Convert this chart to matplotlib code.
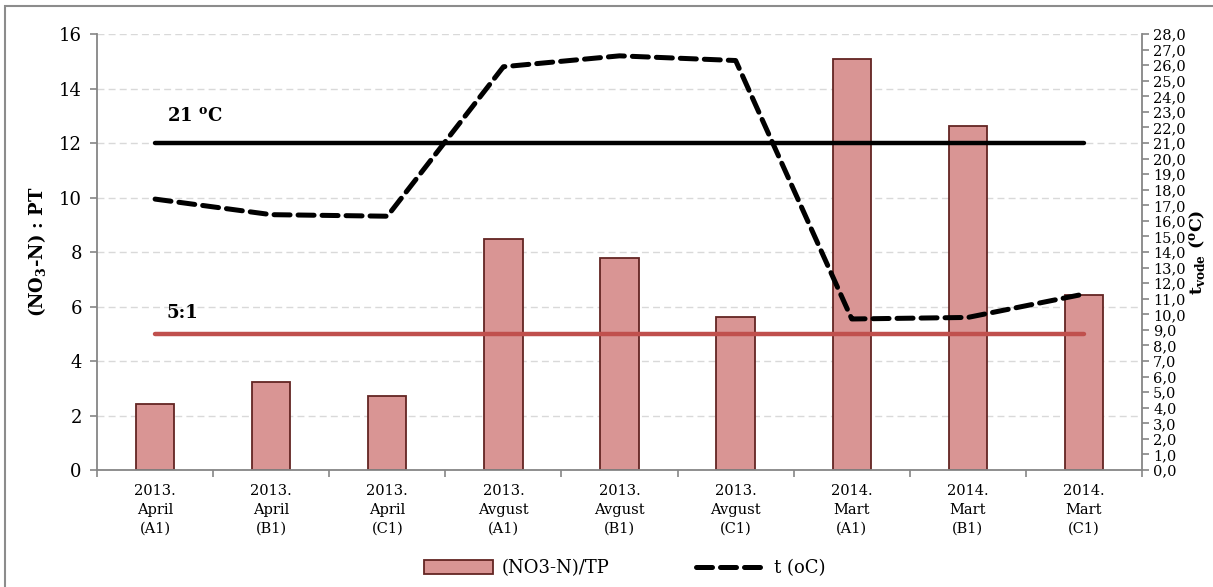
import matplotlib
matplotlib.use("Agg")
import matplotlib.pyplot as plt
from matplotlib.patches import Rectangle
from matplotlib.ticker import MultipleLocator, FixedLocator, FuncFormatter
import numpy as np

categories = [
    "2013.\nApril\n(A1)", "2013.\nApril\n(B1)", "2013.\nApril\n(C1)",
    "2013.\nAvgust\n(A1)", "2013.\nAvgust\n(B1)", "2013.\nAvgust\n(C1)",
    "2014.\nMart\n(A1)", "2014.\nMart\n(B1)", "2014.\nMart\n(C1)",
]
ratio_no3_tp = [2.42, 3.23, 2.72, 8.48, 7.78, 5.61, 15.08, 12.62, 6.42]
water_temp = [17.4, 16.4, 16.3, 25.9, 26.6, 26.3, 9.7, 9.8, 11.3]
temp_threshold = 21.0
ratio_threshold = 5.0

serif = "DejaVu Serif"
plt.rcParams["font.family"] = serif
plt.rcParams["mathtext.fontset"] = "dejavuserif"
plt.rcParams["mathtext.default"] = "bf"

fig = plt.figure(figsize=(12.13, 5.87), dpi=100)
ax = fig.add_axes([0.080, 0.1993, 0.8615, 0.7427])
ax2 = ax.twinx()

x = np.arange(len(categories))
bar_fill = "#d99594"
bar_edge = "#632523"

ax.set_zorder(1)
ax2.set_zorder(2)
ax.patch.set_visible(False)

bars = ax.bar(x, ratio_no3_tp, width=0.33, color=bar_fill, edgecolor=bar_edge,
              linewidth=1.3, zorder=2, label="(NO3-N)/TP")

# reference lines
ax.plot([x[0], x[-1]], [ratio_threshold, ratio_threshold], color="#c0504d",
        lw=3.2, solid_capstyle="round", zorder=3)
ax2.plot([x[0], x[-1]], [temp_threshold, temp_threshold], color="black",
         lw=3.2, solid_capstyle="round", zorder=3)
temp_line, = ax2.plot(x, water_temp, color="black", lw=3.6,
                      linestyle=(0, (3.2, 1.6)), dash_capstyle="round",
                      zorder=4, label="t (oC)")

ax.text(x[0] + 0.1, 13.0, "21 $^{o}$C", fontsize=13, fontweight="bold",
        ha="left", va="center")
ax.text(x[0] + 0.1, 5.75, "5:1", fontsize=13, fontweight="bold",
        ha="left", va="center")

# axes limits
ax.set_xlim(-0.5, len(categories) - 0.5)
ax.set_ylim(0, 16)
ax2.set_ylim(0, 28)

ax.yaxis.set_major_locator(MultipleLocator(2))
ax2.yaxis.set_major_locator(MultipleLocator(1))
ax2.yaxis.set_major_formatter(FuncFormatter(lambda v, p: f"{v:.1f}".replace(".", ",")))

ax.grid(axis="y", color="#d9d9d9", linestyle=(0, (5, 3)), lw=1.0, zorder=0)
ax.set_axisbelow(True)

# category ticks between groups
ax.xaxis.set_major_locator(FixedLocator(x))
ax.set_xticklabels(categories)
ax.xaxis.set_minor_locator(FixedLocator(np.arange(-0.5, len(categories), 1.0)))
ax.tick_params(axis="x", which="major", length=0, pad=10, labelsize=10.5)
ax.tick_params(axis="x", which="minor", length=5, color="#868686", width=1.2)
for lbl in ax.get_xticklabels():
    lbl.set_linespacing(1.45)

ax.tick_params(axis="y", length=5, color="#868686", width=1.2, labelsize=13, pad=6)
ax2.tick_params(axis="y", length=5, color="#868686", width=1.2, labelsize=10.5, pad=3)

ax.spines["top"].set_visible(False)
ax2.spines["top"].set_visible(False)
ax.spines["right"].set_visible(False)
ax2.spines["left"].set_visible(False)
ax2.spines["bottom"].set_visible(False)
for s in ("left", "bottom"):
    ax.spines[s].set_color("#868686")
    ax.spines[s].set_linewidth(1.3)
ax2.spines["right"].set_color("#868686")
ax2.spines["right"].set_linewidth(1.3)

ax.set_ylabel("(NO$_{3}$-N) : PT", fontsize=13, fontweight="bold", labelpad=8)
ax2.set_ylabel("t$_{vode}$ ($^{o}$C)", fontsize=12.5, fontweight="bold",
               rotation=90, labelpad=1)

fig.legend(handles=[bars, temp_line], labels=["(NO3-N)/TP", "t (oC)"],
           loc="center", bbox_to_anchor=(0.515, 0.032), ncol=2, frameon=False,
           fontsize=13, handlelength=3.8, handleheight=0.75, columnspacing=4.8,
           handletextpad=0.5)

# outer frame
fig.patches.append(Rectangle((5 / 1213, -0.05), 1.2, 1 - 6 / 587 + 0.05,
                             transform=fig.transFigure, fill=False,
                             edgecolor="#8c8c8c", lw=1.5))

fig.savefig("out.png", dpi=100)
